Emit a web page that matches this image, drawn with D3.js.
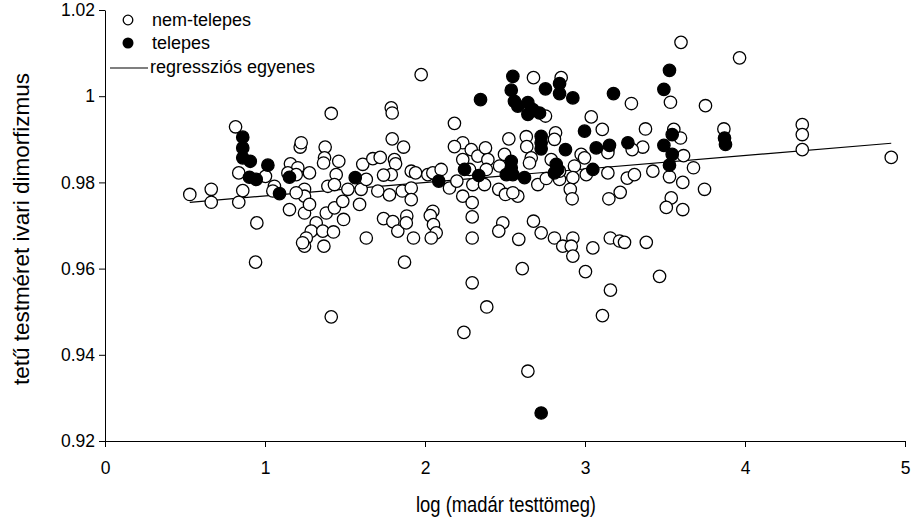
<!DOCTYPE html>
<html><head><meta charset="utf-8">
<script src="https://cdn.jsdelivr.net/npm/d3@7"></script>
<style>
body{margin:0;background:#fff}
svg{display:block}
text{font-family:"Liberation Sans",Arial,sans-serif;fill:#000}
</style>
</head><body>
<svg id="chart" width="914" height="517"></svg>
<script>
// ---------------- data ----------------
const xTicks = [0, 1, 2, 3, 4, 5];
const yTicks = [0.92, 0.94, 0.96, 0.98, 1.00, 1.02];
const xTitle = "log (madár testtömeg)";
const yTitle = "tetű testméret ivari dimorfizmus";
const legendLabels = ["nem-telepes", "telepes", "regressziós egyenes"];

// non-settler species: [log body mass, louse SSD]
const nemTelepes = [
 [0.53,0.9772],[0.664,0.9784],[0.664,0.9754],[0.816,0.9929],[0.836,0.9822],[0.861,0.9781],[0.836,0.9754],[0.949,0.9706],[0.941,0.9615],
 [1.003,0.9814],[1.059,0.9791],[1.049,0.9780],[1.159,0.9843],[1.205,0.9834],[1.143,0.9822],[1.195,0.9818],[1.278,0.9822],[1.153,0.9737],
 [1.22,0.9882],[1.226,0.9892],[1.247,0.9784],[1.247,0.9768],[1.195,0.9776],[1.247,0.9729],[1.278,0.9749],[1.32,0.9706],[1.289,0.9687],[1.258,0.9671],[1.247,0.9652],[1.235,0.9660],
 [1.361,0.9687],[1.368,0.9652],[1.376,0.9882],[1.372,0.9857],[1.366,0.9845],[1.461,0.9849],[1.445,0.9818],[1.393,0.9791],[1.434,0.9795],[1.383,0.9729],[1.434,0.9741],[1.486,0.9756],[1.491,0.9714],[1.428,0.9685],[1.518,0.9784],
 [1.414,0.9960],[1.414,0.9488],
 [1.591,0.9749],[1.601,0.9784],[1.633,0.9807],[1.611,0.9842],[1.674,0.9855],[1.72,0.9858],[1.633,0.9671],
 [1.789,0.9973],[1.795,0.9961],[1.795,0.9901],[1.866,0.9882],[1.809,0.9853],[1.816,0.9843],[1.789,0.9818],[1.741,0.9817],[1.705,0.9780],[1.778,0.9771],[1.858,0.9780],[1.741,0.9716],[1.799,0.9709],[1.83,0.9687],[1.872,0.9615],
 [1.976,1.0050],[1.914,0.9826],[1.941,0.9822],[1.914,0.9787],[1.914,0.9760],[1.886,0.9722],[1.883,0.9706],[1.928,0.9671],
 [2.049,0.9733],[2.033,0.9723],[2.053,0.9702],[2.07,0.9683],[2.039,0.9671],[2.018,0.9818],[2.049,0.9822],[2.101,0.9830],[2.153,0.9787],[2.199,0.9803],
 [2.184,0.9937],[2.236,0.9892],[2.184,0.9883],[2.236,0.9853],[2.289,0.9876],[2.33,0.9861],[2.378,0.9880],[2.393,0.9853],[2.383,0.9830],[2.278,0.9830],[2.236,0.9768],[2.295,0.9753],[2.299,0.9795],[2.372,0.9795],[2.295,0.9720],[2.295,0.9671],
 [2.295,0.9567],[2.386,0.9511],[2.243,0.9452],
 [2.466,0.9838],[2.497,0.9865],[2.524,0.9901],[2.461,0.9784],[2.503,0.9772],[2.58,0.9768],[2.549,0.9776],[2.486,0.9706],[2.461,0.9687],[2.586,0.9668],
 [2.608,0.9600],[2.643,0.9362],
 [2.678,1.0043],[2.851,1.0043],[2.633,0.9906],[2.636,0.9883],[2.664,0.9857],[2.653,0.9845],[2.705,0.9795],[2.758,0.9809],[2.789,0.9853],[2.816,0.9915],[2.809,0.9900],[2.753,0.9954],[2.678,0.9710],[2.726,0.9683],[2.809,0.9671],[2.861,0.9652],[2.924,0.9671],[2.914,0.9652],[2.841,0.9807],[2.841,0.9826],[2.934,0.9838],[2.924,0.9811],[2.976,0.9865],[2.997,0.9857],[3.008,0.9818],[2.908,0.9784],[2.92,0.9762],[2.924,0.9629],[3.003,0.9593],
 [3.039,0.9952],[3.108,0.9923],[3.143,0.9822],[3.149,0.9762],[3.22,0.9777],[3.158,0.9671],[3.216,0.9664],[3.247,0.9661],[3.049,0.9648],[3.143,0.9876],[3.143,0.9869],[3.29,0.9983],[3.264,0.9810],[3.159,0.9550],[3.109,0.9491],
 [3.6,1.0125],[3.966,1.0089],[3.534,0.9986],[3.753,0.9978],[3.378,0.9924],[3.555,0.9923],[3.597,0.9903],[3.868,0.9924],[4.358,0.9934],[4.358,0.9911],[4.358,0.9876],[4.914,0.9858],[3.361,0.9882],[3.295,0.9876],[3.616,0.9862],[3.678,0.9834],[3.424,0.9826],[3.528,0.9813],[3.611,0.9800],[3.747,0.9784],[3.309,0.9818],[3.539,0.9764],[3.508,0.9742],[3.611,0.9737],[3.383,0.9661],[3.466,0.9582]
];

// settler species
const telepes = [
 [0.861,0.9905],[0.861,0.9880],[0.861,0.9857],[0.908,0.9849],[0.903,0.9812],[0.945,0.9807],[1.018,0.9840],[1.091,0.9774],[1.153,0.9812],[1.564,0.9811],
 [2.086,0.9803],[2.247,0.9830],[2.336,0.9816],[2.347,0.9992],
 [2.508,0.9818],[2.549,0.9818],[2.539,0.9849],[2.539,0.9834],[2.549,1.0046],[2.539,1.0014],[2.559,0.9988],[2.58,0.9977],[2.622,0.9811],[2.643,0.9985],[2.643,0.9958],[2.674,0.9969],[2.716,0.9961],[2.726,0.9907],[2.726,0.9892],[2.726,0.9878],[2.726,0.9265],[2.753,1.0017],
 [2.809,0.9822],[2.82,0.9842],[2.83,0.9830],[2.841,1.0029],[2.841,1.0006],[2.878,0.9876],[2.924,0.9996],[2.997,0.9919],[3.049,0.9830],[3.07,0.9880],[3.153,0.9886],[3.178,1.0006],[3.268,0.9892],
 [3.493,1.0016],[3.528,1.0060],[3.545,0.9911],[3.493,0.9886],[3.545,0.9865],[3.528,0.9840],[3.872,0.9903],[3.878,0.9888]
];

// regression line
const regIntercept = 0.97373;
const regSlope = 0.003125;
const regRange = [0.53, 4.914];

// ---------------- drawing ----------------
const svg = d3.select("#chart");
const x = d3.scaleLinear().domain([0, 5]).range([105, 905]);
const y = d3.scaleLinear().domain([0.92, 1.02]).range([441, 10]);
const fmt = d => String(+d.toFixed(2));

const xAxis = svg.append("g").attr("transform", "translate(0,441)")
  .call(d3.axisBottom(x).tickValues(xTicks).tickSize(6).tickSizeOuter(0).tickPadding(15).tickFormat(fmt));
const yAxis = svg.append("g").attr("transform", "translate(105,0)")
  .call(d3.axisLeft(y).tickValues(yTicks).tickSize(6).tickSizeOuter(0).tickPadding(4).tickFormat(fmt));
[xAxis, yAxis].forEach(g => {
  g.attr("font-family", null).attr("font-size", null);
  g.selectAll("text").style("font-size", "17.5px").attr("fill", "#000");
  g.selectAll("line,path").attr("stroke", "#000").attr("stroke-width", 1);
});

// regression line
const regLine = d3.line().x(d => x(d)).y(d => y(regIntercept + regSlope * d));
svg.append("path").attr("d", regLine(regRange))
  .attr("fill", "none").attr("stroke", "#000").attr("stroke-width", 1.2);

const r = 6.2;
svg.append("g").selectAll("circle").data(nemTelepes).join("circle")
  .attr("cx", d => x(d[0])).attr("cy", d => y(d[1])).attr("r", r)
  .attr("fill", "#fff").attr("stroke", "#000").attr("stroke-width", 1.3);
svg.append("g").selectAll("circle").data(telepes).join("circle")
  .attr("cx", d => x(d[0])).attr("cy", d => y(d[1])).attr("r", r)
  .attr("fill", "#000").attr("stroke", "#000").attr("stroke-width", 1.3);

// titles
svg.append("text").attr("x", 506).attr("y", 512).attr("text-anchor", "middle")
  .attr("textLength", 180).attr("lengthAdjust", "spacingAndGlyphs")
  .style("font-size", "22.5px").text(xTitle);
svg.append("text").attr("transform", "translate(29,229) rotate(-90)").attr("text-anchor", "middle")
  .attr("textLength", 312).attr("lengthAdjust", "spacingAndGlyphs")
  .style("font-size", "22.5px").text(yTitle);

// legend
const lg = svg.append("g");
lg.append("circle").attr("cx", 128).attr("cy", 20).attr("r", 4.8)
  .attr("fill", "#fff").attr("stroke", "#000").attr("stroke-width", 1.3);
lg.append("circle").attr("cx", 128).attr("cy", 43).attr("r", 5.5).attr("fill", "#000");
lg.append("line").attr("x1", 110).attr("x2", 148).attr("y1", 68).attr("y2", 68)
  .attr("stroke", "#000").attr("stroke-width", 1.2);
[26, 49, 73].forEach((yy, i) => {
  lg.append("text").attr("x", i === 2 ? 150 : 152).attr("y", yy).style("font-size", "18px").text(legendLabels[i]);
});
</script>
</body></html>
